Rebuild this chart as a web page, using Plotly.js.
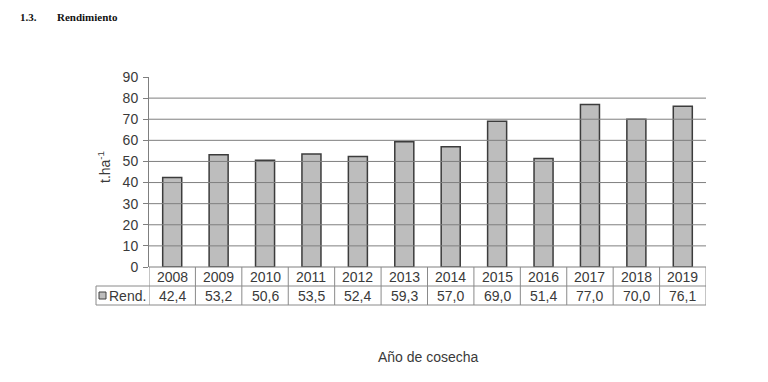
<!DOCTYPE html>
<html><head><meta charset="utf-8">
<script src="https://cdn.plot.ly/plotly-3.0.1.min.js"></script>
<style>html,body{margin:0;padding:0;background:#fff}#chart{width:768px;height:382px}</style>
</head><body><div id="chart"></div>
<script>
const years = ['2008','2009','2010','2011','2012','2013','2014','2015','2016','2017','2018','2019'];
const rend = [42.4, 53.2, 50.6, 53.5, 52.4, 59.3, 57.0, 69.0, 51.4, 77.0, 70.0, 76.1];
const yTicks = [0,10,20,30,40,50,60,70,80,90];
const gridVals = [10,20,30,40,50,60,70,80];
const seriesName = 'Rend.';

const L = 149, R = 706, T = 77, B = 267;
const W = R - L, H = B - T;
const px = x => (x - L) / W;
const py = y => (B - y) / H;
const fmt = v => v.toFixed(1).replace('.', ',');
const txtColor = '#3a3a3a';
const font = {family: 'Liberation Sans, Arial, sans-serif', size: 14, color: txtColor};

const shapes = [];
gridVals.forEach(v => shapes.push({type:'line', xref:'paper', yref:'y', x0:0, x1:1, y0:v, y1:v, line:{color:'#7f7f7f', width:1}}));
// table horizontal lines
[-0.1, -0.2].forEach(y => shapes.push({type:'line', xref:'paper', yref:'paper', x0:px(96), x1:1, y0:y, y1:y, line:{color:'#8a8a8a', width:1}}));
shapes.push({type:'line', xref:'paper', yref:'paper', x0:0, x1:1, y0:0, y1:0, line:{color:'#7f7f7f', width:1}});
// vertical table lines
for (let i = 0; i <= years.length; i++) {
  shapes.push({type:'line', xref:'x', yref:'paper', x0:i-0.5, x1:i-0.5, y0:0, y1:-0.2, line:{color:'#8a8a8a', width:1}});
}
shapes.push({type:'line', xref:'paper', yref:'paper', x0:px(96), x1:px(96), y0:-0.1, y1:-0.2, line:{color:'#8a8a8a', width:1}});
// legend key
shapes.push({type:'rect', xref:'paper', yref:'paper', x0:px(99), x1:px(106), y0:py(299), y1:py(292), fillcolor:'#bdbdbd', line:{color:'#404040', width:1}});

const annotations = [];
years.forEach((yr, i) => {
  annotations.push({x:i, xref:'x', y:py(276.5), yref:'paper', text:yr, showarrow:false, font:font, xanchor:'center', yanchor:'middle'});
  annotations.push({x:i, xref:'x', y:py(295.5), yref:'paper', text:fmt(rend[i]), showarrow:false, font:font, xanchor:'center', yanchor:'middle'});
});
annotations.push({x:px(107), xref:'paper', y:py(295.5), yref:'paper', text:seriesName, showarrow:false, font:font, xanchor:'left', yanchor:'middle'});
annotations.push({x:px(428), xref:'paper', y:py(357), yref:'paper', text:'Año de cosecha', showarrow:false, font:font, xanchor:'center', yanchor:'middle'});
annotations.push({x:px(104), xref:'paper', y:py(167), yref:'paper', text:'t.ha<sup>-1</sup>', textangle:-90, showarrow:false, font:font, xanchor:'center', yanchor:'middle'});
annotations.push({x:px(18), xref:'paper', y:py(17), yref:'paper', text:'<b>1.3.</b>', showarrow:false, font:{family:'Liberation Serif, Times New Roman, serif', size:11, color:'#111'}, xanchor:'left', yanchor:'middle'});
annotations.push({x:px(55), xref:'paper', y:py(17), yref:'paper', text:'<b>Rendimiento</b>', showarrow:false, font:{family:'Liberation Serif, Times New Roman, serif', size:11, color:'#111'}, xanchor:'left', yanchor:'middle'});

const trace = {
  type:'bar', x: years.map((_, i) => i), y: rend, name: seriesName,
  width: 0.41,
  marker: {color:'#bdbdbd', line:{color:'#3c3c3c', width:1.5}},
  hoverinfo:'skip'
};

const layout = {
  width:768, height:382,
  margin:{l:L, r:768-R, t:T, b:382-B, pad:0},
  paper_bgcolor:'#fff', plot_bgcolor:'#fff',
  showlegend:false,
  xaxis:{type:'linear', range:[-0.5, years.length-0.5], showticklabels:false, showgrid:false, zeroline:false, ticks:'', showline:false, fixedrange:true},
  yaxis:{range:[0,90], tickvals:yTicks, showgrid:false, zeroline:false, showline:true, linecolor:'#7f7f7f', linewidth:1,
         ticks:'outside', ticklen:5, tickcolor:'#7f7f7f', tickfont:font, ticklabelstandoff:2, fixedrange:true},
  shapes: shapes,
  annotations: annotations,
  bargap: 0
};
Plotly.newPlot('chart', [trace], layout, {staticPlot:true, displayModeBar:false});
</script></body></html>
